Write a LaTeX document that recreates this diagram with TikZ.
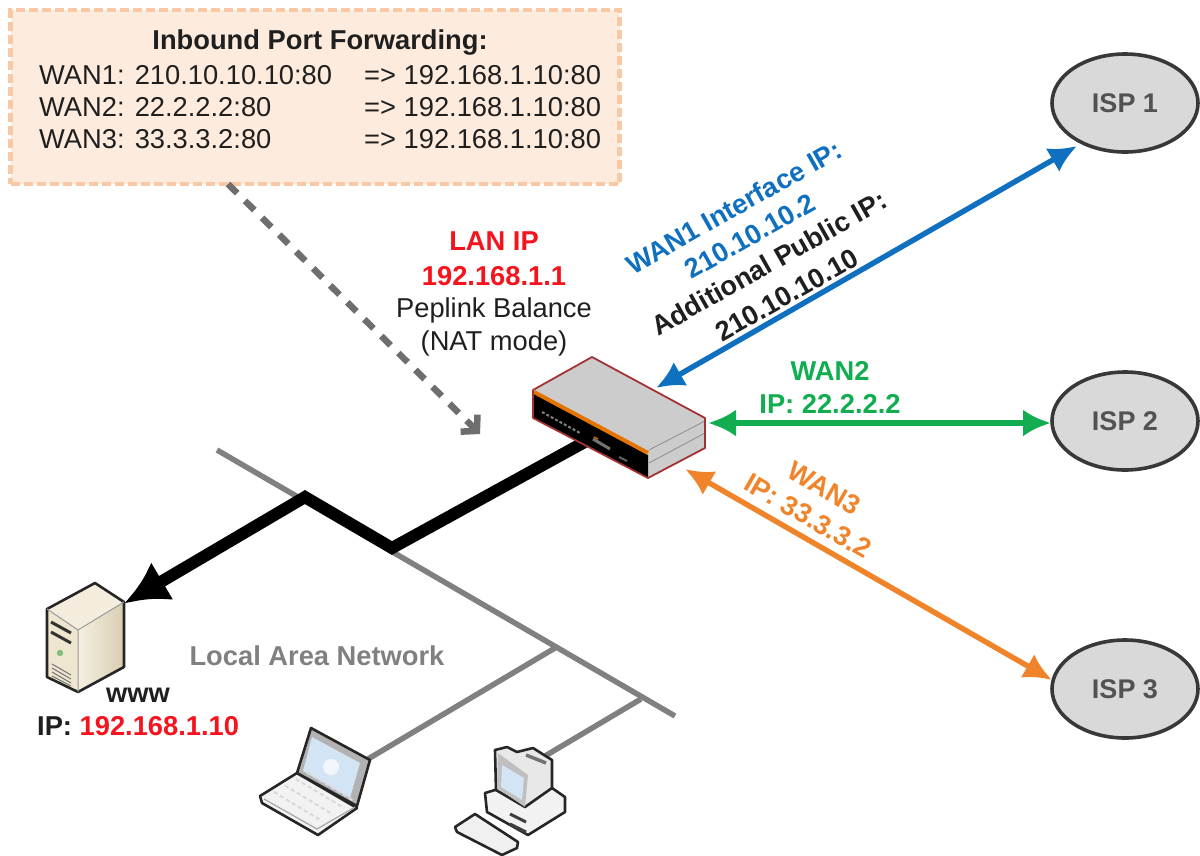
\documentclass[tikz,border=0pt]{standalone}
\usepackage{fontspec}
\setmainfont{Liberation Sans}
\usetikzlibrary{arrows.meta,calc,shapes.geometric}
\definecolor{wanblue}{HTML}{0F70C0}
\definecolor{wangreen}{HTML}{12AD50}
\definecolor{wanorange}{HTML}{F0842A}
\definecolor{lanred}{HTML}{F5141E}
\definecolor{busgray}{HTML}{808080}
\definecolor{peach}{HTML}{FDEBDD}
\definecolor{peachline}{HTML}{F8C9A4}
\definecolor{screenblue}{HTML}{D3E4F4}
\definecolor{beige}{HTML}{EFE6D0}
\definecolor{beigedark}{HTML}{D8CDB0}
\tikzset{
  txt/.style={font=\fontsize{27.3}{32}\selectfont,inner sep=0pt,text=black!88},
  btxt/.style={txt,font=\fontsize{27.3}{32}\selectfont\bfseries},
  isp/.style={draw=black!78,line width=3.6pt,fill=black!15,minimum width=146pt,minimum height=98pt,shape=ellipse,font=\fontsize{27}{32}\selectfont\bfseries,text=black!68},
  wan/.style={line width=5.4pt,{Latex[length=28pt,width=27pt]}-{Latex[length=28pt,width=27pt]}},
  bus/.style={busgray,line width=5.5pt},
  icon/.style={draw=black!85,line width=2.6pt,line join=round},
}
\begin{document}
\begin{tikzpicture}[x=1pt,y=-1pt]
\useasboundingbox (0,0) rectangle (1200,855);
% forwarding box
\node[draw=peachline,fill=peach,line width=4.5pt,dash pattern=on 9pt off 4pt,minimum width=609pt,minimum height=174pt,inner sep=0pt] (fwd) at (315,97) {};
\node[btxt,anchor=base] (fwdt) at (320,49) {Inbound Port Forwarding:};
\node[txt,anchor=base west] (w1) at (39,84) {WAN1: 210.10.10.10:80};
\node[txt,anchor=base west] (w2) at (39,116) {WAN2: 22.2.2.2:80};
\node[txt,anchor=base west] (w3) at (39,148) {WAN3: 33.3.3.2:80};
\node[txt,anchor=base west] (t1) at (364,84) {=> 192.168.1.10:80};
\node[txt,anchor=base west] (t2) at (364,116) {=> 192.168.1.10:80};
\node[txt,anchor=base west] (t3) at (364,148) {=> 192.168.1.10:80};
% anchors
\coordinate (fwdout) at (228,184);
\coordinate (fwdin) at (480,434);
\coordinate (busa) at (217,450);
\coordinate (busb) at (675,716);
\coordinate (tapl) at (555,648);
\coordinate (lapl) at (368,759);
\coordinate (tapd) at (641,699);
\coordinate (deskc) at (545,756);
\coordinate (rlan) at (592,438);
\coordinate (k1) at (392,548);
\coordinate (k2) at (305,497);
\coordinate (srv) at (125,603);
\coordinate (rw1) at (656,388);
\coordinate (rw2) at (708,423);
\coordinate (rw3) at (685,469);
% ISPs
\node[isp] (isp1) at (1125,103) {ISP 1};
\node[isp] (isp2) at (1125,421) {ISP 2};
\node[isp] (isp3) at (1125,689) {ISP 3};
\coordinate (i1) at (1077,146);
\coordinate (i2) at (1051,423);
\coordinate (i3) at (1052,680);
% dashed
\draw[black!57,line width=6.5pt,dash pattern=on 13pt off 11pt,-{Straight Barb[length=11pt,width=24pt,line width=6.5pt]}] (fwdout) -- (fwdin);
% LAN
\draw[bus] (busa) -- (busb);
\draw[bus] (tapl) -- (lapl);
\draw[bus] (tapd) -- (deskc);
\draw[black,line width=12pt,line join=miter,-{Latex[length=44pt,width=44pt,sep=-1pt]}] (rlan) -- (k1) -- (k2) -- (srv);
% WAN arrows
\draw[wan,wanblue] (rw1) -- (i1);
\draw[wan,wangreen] (rw2) -- (i2);
\draw[wan,wanorange] (rw3) -- (i3);
% router
\fill[black!20] (533,390) -- (592,357) -- (705,418) -- (648,452) -- cycle;
\fill[black!20] (648,452) -- (705,418) -- (705,448) -- (648,478) -- cycle;
\fill[black] (533,392) -- (648,455) -- (648,478) -- (533,418) -- cycle;
\draw[orange!90!black,line width=4pt] (534,392) -- (648,453);
\draw[black!45,line width=.8pt] (649,450) -- (705,421) (649,463) -- (705,433);
\draw[black!50,line width=2pt,dash pattern=on 3pt off 2pt] (542,412) -- (580,433);
\draw[black!55,line width=3pt] (593,439) -- (610,449);
\draw[orange!80!black,line width=1.5pt] (594,437) -- (598,439);
\draw[black!60,line width=2pt] (619,457) -- (627,461);
\draw[red!55!black!80,line width=1.8pt,line join=round] (533,390) -- (592,357) -- (705,418) -- (705,448) -- (648,478) -- (533,418) -- cycle;
% server
\fill[beige!70!white] (47,609) -- (95,583) -- (124,602) -- (78,630) -- cycle;
\path[left color=beige!60!white,right color=beigedark] (78,630) -- (124,602) -- (124,667) -- (78,692) -- cycle;
\fill[beige] (47,609) -- (78,630) -- (78,692) -- (47,677) -- cycle;
\draw[icon] (47,609) -- (95,583) -- (124,602) -- (124,667) -- (78,692) -- (47,677) -- cycle;
\draw[black!40,line width=1pt] (47,609) -- (78,630) -- (124,602) (78,630) -- (78,692);
\draw[black!80,line width=3pt] (51,622) -- (71,633) (51,632) -- (71,643);
\fill[black!50!green!50] (60,653) circle (3.2pt);
\draw[black!55,line width=1pt] (52,664) -- (71,675) (52,668) -- (71,679) (52,672) -- (71,683) (52,676) -- (71,686);
% laptop
\draw[icon,fill=black!5] (260,796) -- (297,773) -- (357,808) -- (318,835) -- (262,803) -- cycle;
\draw[icon,fill=black!30] (311,728) -- (370,760) -- (357,806) -- (297,773) -- cycle;
\fill[screenblue] (312,737) -- (360,763) -- (350,798) -- (303,771) -- cycle;
\fill[white,opacity=.7] (331,767) circle (8pt);
\foreach \i in {0,1,2,3}{\draw[black!15,line width=2pt,dash pattern=on 4pt off 3pt] ($(274+\i*11,792-\i*6.5)$) -- ($(322+\i*11,821-\i*6.5)$);}
\draw[black!35,line width=1.2pt] (264,799) -- (317,829) -- (355,807);
% desktop
\draw[icon,fill=black!5] (485,793) -- (495,790) -- (552,788) -- (565,797) -- (565,812) -- (528,835) -- (487,812) -- cycle;
\draw[icon,fill=black!9] (495,750) -- (507,747) -- (517,752) -- (533,748) -- (552,760) -- (552,788) -- (525,807) -- (496,790) -- cycle;
\fill[black!25] (498,753) -- (528,775) -- (525,807) -- (497,788) -- cycle;
\fill[screenblue] (502,765) -- (524,778) -- (522,800) -- (501,787) -- cycle;
\draw[black!55,line width=3.5pt] (526,755) -- (546,763);
\draw[black!75,line width=3pt] (510,814) -- (526,822) (510,824) -- (526,832);
\draw[icon,fill=black!6] (455,827) -- (475,814) -- (518,842) -- (517,848) -- (502,855) -- (457,832) -- cycle;
% labels
\node[btxt,text=lanred,anchor=base] (lan1) at (494,250) {LAN IP};
\node[btxt,text=lanred,anchor=base] (lan2) at (494,285) {192.168.1.1};
\node[txt,anchor=base] (lan3) at (494,317) {Peplink Balance};
\node[txt,anchor=base] (lan4) at (494,350) {(NAT mode)};
\node[btxt,text=wanblue,rotate=29.5] (wb1) at (734,207) {WAN1 Interface IP:};
\node[btxt,text=wanblue,rotate=29.5] (wb2) at (750,236) {210.10.10.2};
\node[btxt,rotate=29.5] (wb3) at (769,263) {Additional Public IP:};
\node[btxt,rotate=29.5] (wb4) at (787,295) {210.10.10.10};
\node[btxt,text=wangreen,anchor=base] (wg1) at (830,380) {WAN2};
\node[btxt,text=wangreen,anchor=base] (wg2) at (830,413) {IP: 22.2.2.2};
\node[btxt,text=wanorange,rotate=-30] (wo1) at (824,488) {WAN3};
\node[btxt,text=wanorange,rotate=-30] (wo2) at (808,516) {IP: 33.3.3.2};
\node[btxt,text=busgray,anchor=base] (lanl) at (317,665) {Local Area Network};
\node[btxt,anchor=base] (www) at (138,702) {www};
\node[btxt,anchor=base west] (ipl) at (37,735) {IP: \textcolor{lanred}{192.168.1.10}};
\end{tikzpicture}
\end{document}
